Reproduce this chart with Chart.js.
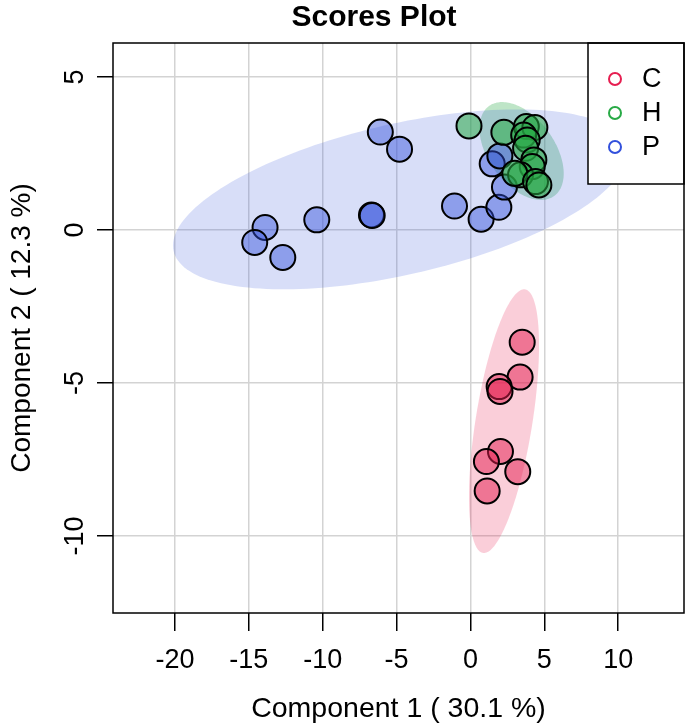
<!DOCTYPE html>
<html><head><meta charset="utf-8">
<script src="https://cdn.jsdelivr.net/npm/chart.js@4.4.1/dist/chart.umd.min.js"></script>
<style>html,body{margin:0;padding:0;background:#fff;overflow:hidden}canvas{display:block}</style>
</head><body><canvas id="c" width="685" height="726"></canvas>
<script>
const groups = ['C', 'H', 'P'];
const groupColors = ['rgb(230,30,80)', 'rgb(40,170,70)', 'rgb(50,80,220)'];
const cX = [3.5, 3.36, 1.94, 2.0, 2.03, 1.08, 3.2, 1.13];
const cY = [-3.67, -4.81, -5.12, -5.28, -7.24, -7.57, -7.9, -8.53];
const hX = [-0.1, 2.26, 3.78, 4.36, 3.6, 3.84, 3.73, 4.29, 4.18, 3.39, 3.0, 4.4, 4.63];
const hY = [3.4, 3.19, 3.38, 3.35, 3.1, 2.94, 2.67, 2.29, 2.07, 1.8, 1.85, 1.58, 1.47];
const pX = [-6.1, -4.8, -13.9, -14.6, -12.7, -10.4, -6.7, -6.65, -1.08, 0.72, 1.92, 2.3, 1.47, 1.99];
const pY = [3.2, 2.64, 0.08, -0.41, -0.9, 0.33, 0.49, 0.47, 0.78, 0.35, 0.74, 1.4, 2.16, 2.42];
const xTicks = [-20, -15, -10, -5, 0, 5, 10];
const yTicks = [-10, -5, 0, 5];
// confidence ellipses (data units): centre, spread and correlation per group
const ellCx = [2.27, 3.46, -4.77];
const ellCy = [-6.25, 2.58, 1.0];
const ellSx = [2.37, 2.85, 15.36];
const ellSy = [4.31, 1.60, 2.94];
const ellRho = [0.573, -0.46, 0.514];

const FONT = 'Liberation Sans, Arial, Helvetica, sans-serif';
function rgba(c, a) { return c.replace('rgb(', 'rgba(').replace(')', ',' + a + ')'); }
function pts(xs, ys) { return xs.map((x, i) => ({ x: x, y: ys[i] })); }

const ellAlpha = [0.22, 0.3, 0.19];
const pointAlpha = [0.5, 0.55, 0.45];

const deco = {
  id: 'deco',
  beforeDatasetsDraw(chart) {
    const ctx = chart.ctx, xs = chart.scales.x, ys = chart.scales.y, a = chart.chartArea;
    ctx.save();
    ctx.beginPath(); ctx.rect(a.left, a.top, a.right - a.left, a.bottom - a.top); ctx.clip();
    for (let g = 0; g < groups.length; g++) {
      const r = Math.sqrt(1 - ellRho[g] * ellRho[g]);
      ctx.beginPath();
      for (let k = 0; k <= 180; k++) {
        const t = k / 180 * Math.PI * 2;
        const dx = ellCx[g] + ellSx[g] * Math.cos(t);
        const dy = ellCy[g] + ellSy[g] * (ellRho[g] * Math.cos(t) + r * Math.sin(t));
        const px = xs.getPixelForValue(dx), py = ys.getPixelForValue(dy);
        if (k === 0) ctx.moveTo(px, py); else ctx.lineTo(px, py);
      }
      ctx.closePath();
      ctx.fillStyle = rgba(groupColors[g], ellAlpha[g]);
      ctx.fill();
    }
    ctx.restore();
  },
  afterDatasetsDraw(chart) {
    const ctx = chart.ctx, a = chart.chartArea;
    ctx.save();
    // legend
    const lx = 588, ly = a.top, lw = a.right - 588, lh = 141;
    ctx.fillStyle = '#fff';
    ctx.fillRect(lx, ly, lw, lh);
    ctx.strokeStyle = '#000'; ctx.lineWidth = 1.5;
    ctx.strokeRect(lx, ly, lw, lh);
    ctx.font = '27px ' + FONT;
    ctx.textAlign = 'left'; ctx.textBaseline = 'middle';
    for (let g = 0; g < groups.length; g++) {
      const yy = ly + 36 + g * 34;
      ctx.beginPath(); ctx.arc(615, yy, 6, 0, Math.PI * 2);
      ctx.strokeStyle = groupColors[g]; ctx.lineWidth = 2; ctx.stroke();
      ctx.fillStyle = '#000';
      ctx.fillText(groups[g], 642, yy + 1);
    }
    // plot box
    ctx.strokeStyle = '#000'; ctx.lineWidth = 1.5;
    ctx.strokeRect(a.left, a.top, a.right - a.left, a.bottom - a.top);
    ctx.restore();
  },
  afterDraw(chart) {
    const ctx = chart.ctx, xs = chart.scales.x, ys = chart.scales.y;
    ctx.save();
    ctx.fillStyle = '#000';
    ctx.font = '27px ' + FONT;
    ctx.textAlign = 'center'; ctx.textBaseline = 'middle';
    for (const v of yTicks) {
      const py = ys.getPixelForValue(v);
      ctx.save(); ctx.translate(76, py); ctx.rotate(-Math.PI / 2);
      ctx.fillText(String(v), 0, 0); ctx.restore();
    }
    for (const v of xTicks) {
      ctx.fillText(String(v), xs.getPixelForValue(v), 661);
    }
    ctx.font = 'bold 30px ' + FONT;
    ctx.textBaseline = 'alphabetic';
    ctx.fillText('Scores Plot', 374, 26);
    ctx.restore();
  }
};

new Chart(document.getElementById('c'), {
  type: 'scatter',
  data: {
    datasets: groups.map((g, i) => ({
      label: g,
      data: [pts(cX, cY), pts(hX, hY), pts(pX, pY)][i],
      backgroundColor: rgba(groupColors[i], pointAlpha[i]),
      borderColor: '#000',
      borderWidth: 2,
      pointRadius: 12.5,
      pointHoverRadius: 12.5
    }))
  },
  options: {
    responsive: false, animation: false, devicePixelRatio: 1,
    layout: { autoPadding: false, padding: { top: 43, right: 1, left: 0, bottom: 0 } },
    plugins: { legend: { display: false }, tooltip: { enabled: false }, title: { display: false } },
    scales: {
      x: {
        type: 'linear', min: -24.19, max: 14.45,
        afterBuildTicks: s => { s.ticks = xTicks.map(v => ({ value: v })); },
        afterFit: s => { s.height = 113; s.paddingLeft = 0; s.paddingRight = 0; },
        grid: { color: '#d3d3d3', lineWidth: 1.5, tickColor: '#000', tickLength: 18, tickWidth: 1.5 },
        border: { display: false },
        ticks: { display: false },
        title: { display: true, text: 'Component 1 ( 30.1 %)', color: '#000', font: { family: FONT, size: 28.5 }, padding: { top: 0, bottom: 0 } }
      },
      y: {
        type: 'linear', min: -12.52, max: 6.11,
        afterBuildTicks: s => { s.ticks = yTicks.map(v => ({ value: v })); },
        afterFit: s => { s.width = 113; s.paddingTop = 0; s.paddingBottom = 0; },
        grid: { color: '#d3d3d3', lineWidth: 1.5, tickColor: '#000', tickLength: 16, tickWidth: 1.5 },
        border: { display: false },
        ticks: { display: false },
        title: { display: true, text: 'Component 2 ( 12.3 %)', color: '#000', font: { family: FONT, size: 28 }, padding: { top: 5, bottom: 0 } }
      }
    }
  },
  plugins: [deco]
});
</script></body></html>
